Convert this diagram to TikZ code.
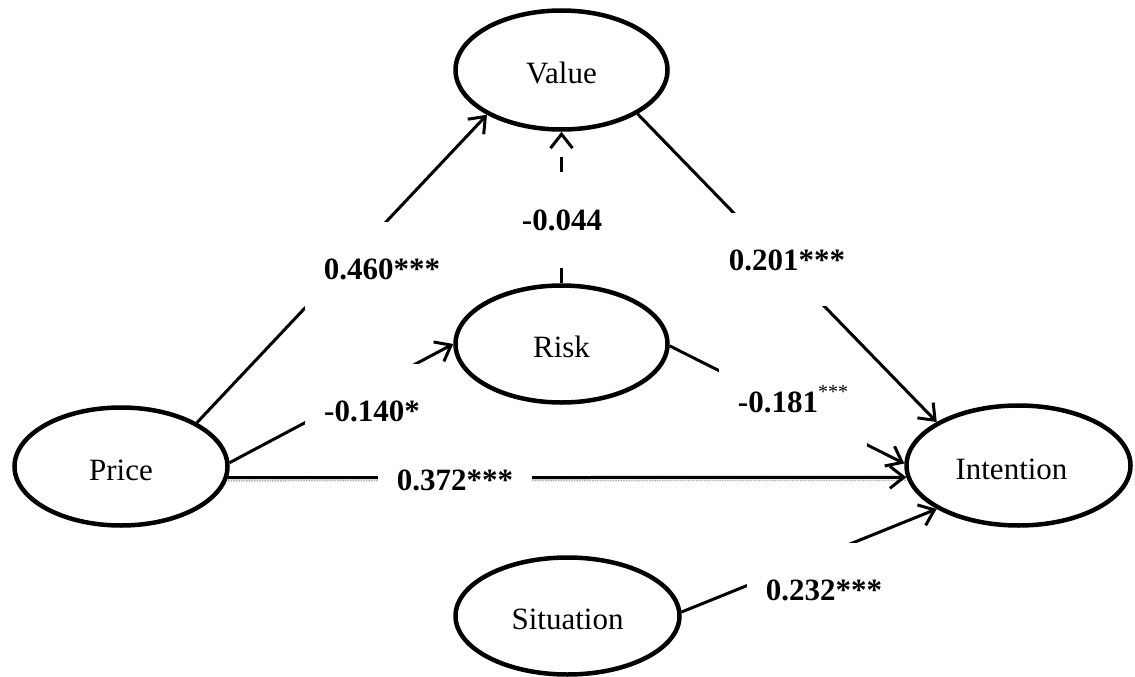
\documentclass[tikz,border=0pt]{standalone}
\usepackage{fontspec}
\setmainfont{Liberation Serif}
\usetikzlibrary{shapes.geometric,arrows.meta}
\begin{document}
\begin{tikzpicture}[x=1pt,y=-1pt,
  latent/.style={ellipse,draw,line width=4.5pt,inner sep=0pt,text height=27pt,text depth=0pt,
    font=\fontsize{31}{37}\selectfont},
  conn/.style={line width=3pt,-{Straight Barb[length=14pt,width=22pt]}},
  shade/.style={line width=1.6pt,gray!60,densely dotted},
  coef/.style={fill=white,font=\fontsize{31}{37}\selectfont\bfseries,text height=21pt,
    text depth=0pt,inner xsep=19pt,inner ysep=36pt,anchor=base}]
\useasboundingbox (0,0) rectangle (1135,677);
% constructs
\node[latent,minimum width=212pt,minimum height=119pt] (value) at (561.5,70) {Value};
\node[latent,minimum width=212pt,minimum height=117pt] (risk) at (561.5,344) {Risk};
\node[latent,minimum width=213pt,minimum height=118pt] (price) at (121,466.5) {Price};
\node[latent,minimum width=224pt,minimum height=120pt] (intention) at (1018.5,465.5) {Intention\kern14pt};
\node[latent,minimum width=224pt,minimum height=117pt] (situation) at (567.5,616) {Situation};
% paths
\draw[conn] (price.30) -- (value.211);
\draw[conn] (value.-30) -- (intention.152);
\draw[conn,dash pattern=on 15pt off 96pt on 15pt off 200pt] (risk.90) -- (value.270);
\draw[conn] (price.2) -- (risk.180);
\draw[conn] (risk.-1) -- (intention.179);
\draw[shade] ([yshift=-3pt]price.-6) -- ([yshift=-3pt]intention.186);
\draw[conn] (price.-6) -- (intention.186);
\draw[conn] (situation.2) -- (intention.208);
% coefficients
\node[coef] (c1) at (382,279) {0.460***};
\node[coef] (c2) at (562,230) {-0.044};
\node[coef] (c3) at (787,270) {0.201***};
\node[coef] (c4) at (793,412) {-0.181{\mdseries\fontsize{20}{20}\selectfont\raisebox{14pt}{***}}};
\node[coef] (c5) at (372,421) {-0.140*};
\node[coef] (c6) at (455,490) {0.372***};
\node[coef] (c7) at (824,600) {0.232***};
\end{tikzpicture}
\end{document}
